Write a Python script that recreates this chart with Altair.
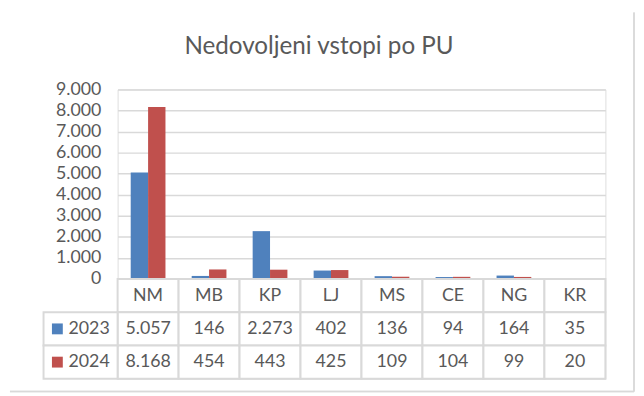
import altair as alt
import pandas as pd

categories = ["NM", "MB", "KP", "LJ", "MS", "CE", "NG", "KR"]
years = ["2023", "2024"]
values_2023 = [5057, 146, 2273, 402, 136, 94, 164, 35]
values_2024 = [8168, 454, 443, 425, 109, 104, 99, 20]
colors = ["#4F81BD", "#C0504D"]
y_ticks = [0, 1000, 2000, 3000, 4000, 5000, 6000, 7000, 8000, 9000]

TEXT = "#595959"
GRID = "#D9D9D9"
FONT = "Lato"


def fmt(v):
    return f"{v:,}".replace(",", ".")


bars = pd.DataFrame(
    [{"cat": c, "year": "2023", "value": v} for c, v in zip(categories, values_2023)]
    + [{"cat": c, "year": "2024", "value": v} for c, v in zip(categories, values_2024)]
)

rows = ["h"] + years
cells = []
for i, c in enumerate(categories):
    cells.append({"tcat": c, "row": "h", "label": c})
    cells.append({"tcat": c, "row": "2023", "label": fmt(values_2023[i])})
    cells.append({"tcat": c, "row": "2024", "label": fmt(values_2024[i])})
cells = pd.DataFrame(cells)
heads = pd.DataFrame({"row": years, "year": years})

W = 494
H = 192
TH = 101

color_scale = alt.Scale(domain=years, range=colors)

bar_chart = alt.Chart(bars).mark_bar().encode(
    x=alt.X("cat:N", sort=categories,
            scale=alt.Scale(paddingInner=0.43, paddingOuter=0.215), axis=None),
    xOffset=alt.XOffset("year:N", sort=years),
    y=alt.Y("value:Q", scale=alt.Scale(domain=[0, 9000], nice=False),
            axis=alt.Axis(values=y_ticks, title=None, domain=False, ticks=False,
                          labelExpr="replace(format(datum.value, ',.0f'), ',', '.')",
                          labelFont=FONT, labelFontSize=18, labelColor=TEXT,
                          labelPadding=17, grid=True, gridColor=GRID, gridWidth=1.5)),
    color=alt.Color("year:N", scale=color_scale, legend=None),
).properties(width=W, height=H)

tx = alt.X("tcat:N", sort=categories, scale=alt.Scale(padding=0), axis=None)
ty = alt.Y("row:N", sort=rows, scale=alt.Scale(padding=0), axis=None)

table_cells = alt.Chart(cells).mark_rect(fill="white", stroke=GRID, strokeWidth=2).encode(
    x=tx, y=ty)
table_text = alt.Chart(cells).mark_text(font=FONT, fontSize=18, color=TEXT).encode(
    x=tx, y=ty, text="label:N")
head_cells = alt.Chart(heads).mark_rect(fill="white", stroke=GRID, strokeWidth=2).encode(
    x=alt.value(-75), x2=alt.value(0), y=ty)
head_squares = alt.Chart(heads).mark_square(size=121, opacity=1).encode(
    x=alt.value(-61), y=ty,
    color=alt.Color("year:N", scale=color_scale, legend=None))
head_text = alt.Chart(heads).mark_text(font=FONT, fontSize=18, color=TEXT, align="right").encode(
    x=alt.value(-8), y=ty, text="year:N")

# outer chart-area frame (right and bottom edges)
frame_right = alt.Chart(heads).mark_rule(color=GRID, strokeWidth=1.5).encode(
    x=alt.value(523), y=alt.value(-270), y2=alt.value(114))
frame_bottom = alt.Chart(heads).mark_rule(color=GRID, strokeWidth=1.5).encode(
    x=alt.value(-109), x2=alt.value(523), y=alt.value(114))

table = alt.layer(table_cells, table_text, head_cells, head_squares, head_text,
                  frame_right, frame_bottom).properties(width=W, height=TH)

chart = alt.vconcat(bar_chart, table, spacing=0, bounds="flush").resolve_scale(
    x="independent", y="independent"
).properties(
    title=alt.TitleParams("Nedovoljeni vstopi po PU", font=FONT, fontSize=24.5,
                          fontWeight="normal", color=TEXT, anchor="middle",
                          frame="group", offset=-49, dx=-43),
    padding={"left": 0, "top": 0, "right": 0, "bottom": 0},
).configure_view(stroke=None).configure(background="white")

chart.save("out.html", embed_options={"renderer": "svg", "actions": False})
